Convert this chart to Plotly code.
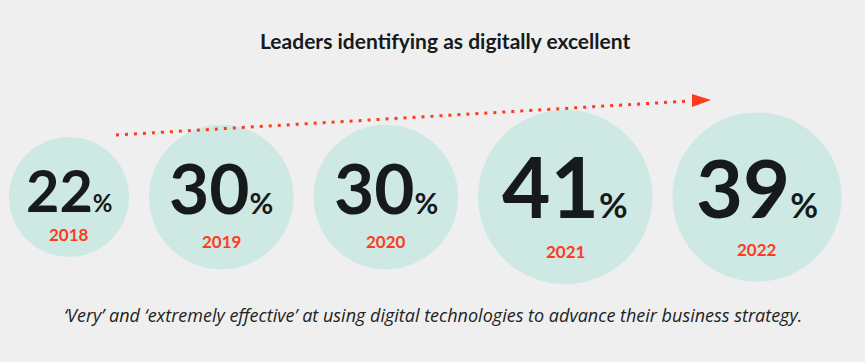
import plotly.graph_objects as go

# ---- data ----
years = ["2018", "2019", "2020", "2021", "2022"]
values = [22, 30, 30, 41, 39]
title_text = "Leaders identifying as digitally excellent"
footnote_text = "‘Very’ and ‘extremely effective’ at using digital technologies to advance their business strategy."

# ---- styling / layout constants ----
W, H = 865, 362
BG = "#efefef"
CIRCLE = "#c0e5df"
RED = "#ff3b1d"
DARK = "#161a1a"
FONT = "Lato"
LEFT = 9
GAP = 20
CY = 197

# circle diameters derived from the values
diam = [120 * (v / 22) ** 0.6 for v in values]
centers = []
x = LEFT
for d in diam:
    centers.append(x + d / 2)
    x += d + GAP

fig = go.Figure()
fig.add_trace(go.Scatter(
    x=centers, y=[CY] * len(values), mode="markers",
    marker=dict(size=diam, color=CIRCLE, line=dict(width=0)),
    hoverinfo="skip", showlegend=False,
))

annotations = []
for cx, d, v, yr in zip(centers, diam, values, years):
    fs = 0.48 * d
    annotations.append(dict(
        x=cx, y=CY - 0.065 * d, xref="x", yref="y", showarrow=False,
        text=f"<b>{v}</b><span style='font-size:{fs*0.42:.0f}px'><b>%</b></span>",
        font=dict(family=FONT, size=fs, color=DARK, weight=900),
        xanchor="center", yanchor="middle",
    ))
    annotations.append(dict(
        x=cx, y=CY + 0.31 * d, xref="x", yref="y", showarrow=False,
        text=f"<b>{yr}</b>",
        font=dict(family=FONT, size=17, color=RED),
        xanchor="center", yanchor="middle",
    ))

annotations.append(dict(
    x=445, y=40, xref="x", yref="y", showarrow=False,
    text=f"<b>{title_text}</b>",
    font=dict(family=FONT, size=21, color=DARK, weight=900),
    xanchor="center", yanchor="middle",
))
annotations.append(dict(
    x=433, y=315, xref="x", yref="y", showarrow=False,
    text=f"<i>{footnote_text}</i>",
    font=dict(family="Open Sans", size=18, color="#222222"),
    xanchor="center", yanchor="middle",
))

shapes = [
    dict(type="line", xref="x", yref="y", x0=116, y0=135, x1=690, y1=101,
         line=dict(color=RED, width=3, dash="3px,6px")),
    dict(type="path", xref="x", yref="y",
         path="M 692 94 L 711 100 L 692 107 Z",
         fillcolor=RED, line=dict(width=0)),
]

fig.update_layout(
    width=W, height=H,
    margin=dict(l=0, r=0, t=0, b=0),
    paper_bgcolor=BG, plot_bgcolor=BG,
    xaxis=dict(range=[0, W], visible=False, fixedrange=True),
    yaxis=dict(range=[H, 0], visible=False, fixedrange=True),
    annotations=annotations, shapes=shapes,
    showlegend=False,
)

fig.write_html(
    "out.html",
    config={"displayModeBar": False},
    post_script="document.body.style.margin='0';document.body.style.background='#efefef';",
)
